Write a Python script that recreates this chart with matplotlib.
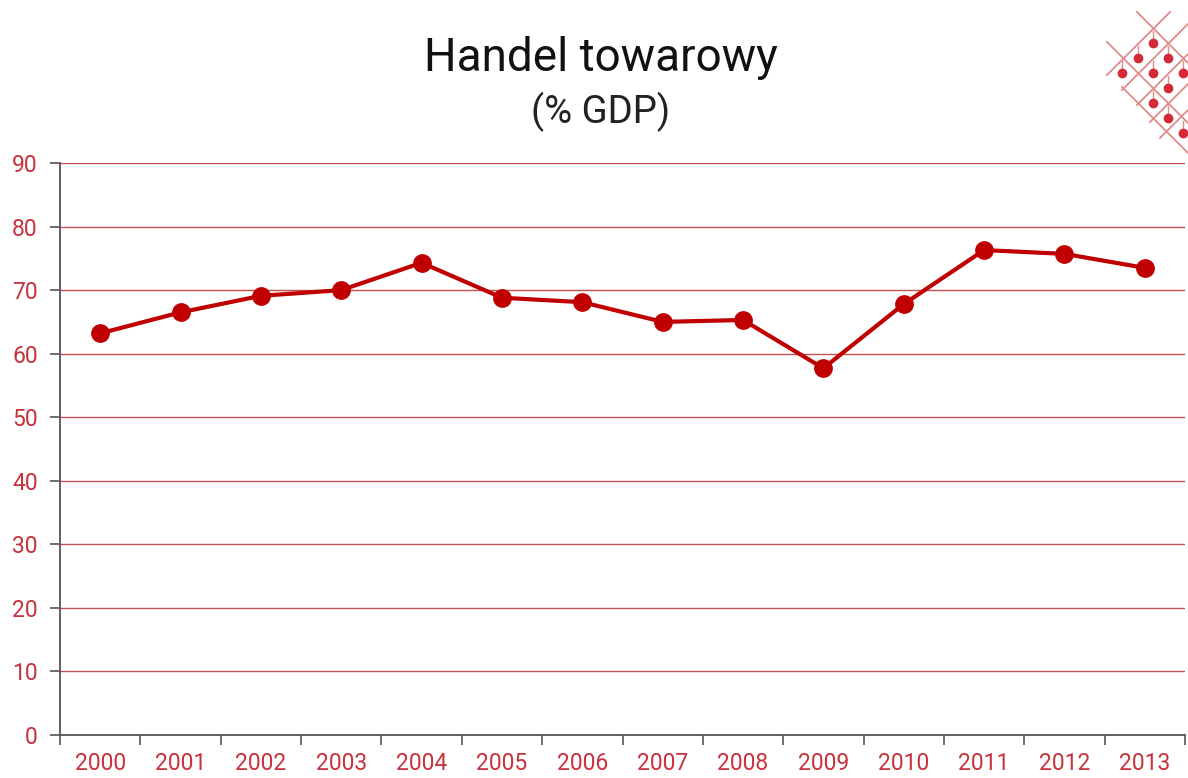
import matplotlib
matplotlib.use("Agg")
import matplotlib.pyplot as plt
import numpy as np

plt.rcParams["font.family"] = ["Roboto", "DejaVu Sans"]

# data
years = ["2000", "2001", "2002", "2003", "2004", "2005", "2006",
         "2007", "2008", "2009", "2010", "2011", "2012", "2013"]
trade_pct_gdp = [63.2, 66.5, 69.1, 70.0, 74.3, 68.8, 68.1,
                 65.0, 65.3, 57.7, 67.8, 76.3, 75.7, 73.5]
y_ticks = [0, 10, 20, 30, 40, 50, 60, 70, 80, 90]

RED = "#C00000"
LABEL_RED = "#C8323C"
GRID_RED = "#C25050"
W, H = 1188, 778

fig = plt.figure(figsize=(W / 100, H / 100), dpi=100)
fig.patch.set_facecolor("white")

ax = fig.add_axes([60 / W, 43 / H, (1185 - 60) / W, (735 - 163) / H])

x = np.arange(len(years))
ax.plot(x, trade_pct_gdp, color=RED, lw=3.0, marker="o", ms=12.5,
        markerfacecolor=RED, markeredgecolor=RED, zorder=3)

ax.set_xlim(-0.5, len(years) - 0.5)
ax.set_ylim(0, 90)
ax.set_yticks(y_ticks)
ax.set_yticklabels([str(v) for v in y_ticks])
for v in y_ticks[1:]:
    ax.axhline(v, color=GRID_RED, lw=1.0, zorder=1)

ax.set_xticks(x)
ax.set_xticklabels(years)
ax.set_xticks(np.arange(-0.5, len(years), 1.0), minor=True)
ax.tick_params(axis="x", which="major", length=0, pad=12,
               labelsize=16.5, labelcolor=LABEL_RED)
ax.tick_params(axis="x", which="minor", length=7, width=1.2, color="#555555",
               direction="out")
ax.tick_params(axis="y", length=7, width=1.2, color="#555555", pad=9,
               labelsize=16.5, labelcolor=LABEL_RED)

for s in ["top", "right"]:
    ax.spines[s].set_visible(False)
for s in ["left", "bottom"]:
    ax.spines[s].set_color("#555555")
    ax.spines[s].set_linewidth(1.3)

fig.text(601 / W, 1 - 58 / H, "Handel towarowy", ha="center", va="center",
         fontsize=33, color="#111111")
fig.text(601 / W, 1 - 112 / H, "(% GDP)", ha="center", va="center",
         fontsize=27.5, color="#222222")

# decorative logo in top right corner (pixel coordinates)
logo = fig.add_axes([0, 0, 1, 1], zorder=5)
logo.set_xlim(0, W)
logo.set_ylim(H, 0)
logo.axis("off")
logo_lines = [
    ((1137, 12), (1188, 63)), ((1107, 42), (1188, 123)), ((1122, 87), (1188, 153)),
    ((1170, 12), (1107, 75)), ((1188, 24), (1122, 90)), ((1188, 54), (1137, 105)),
    ((1188, 84), (1150, 122)), ((1188, 110), (1160, 138)),
]
for (x0, y0), (x1, y1) in logo_lines:
    logo.plot([x0, x1], [y0, y1], color="#E08A8A", lw=1.3)
logo_dots = [(1153, 43), (1138, 58), (1168, 58), (1122, 73), (1153, 73),
             (1183, 73), (1168, 88), (1153, 103), (1168, 118), (1183, 133)]
for dx, dy in logo_dots:
    logo.plot([dx, dx], [dy - 12, dy], color="#E08A8A", lw=1.0)
    logo.plot(dx, dy, "o", color="#D42A35", ms=6)

fig.savefig("out.png", dpi=100)
